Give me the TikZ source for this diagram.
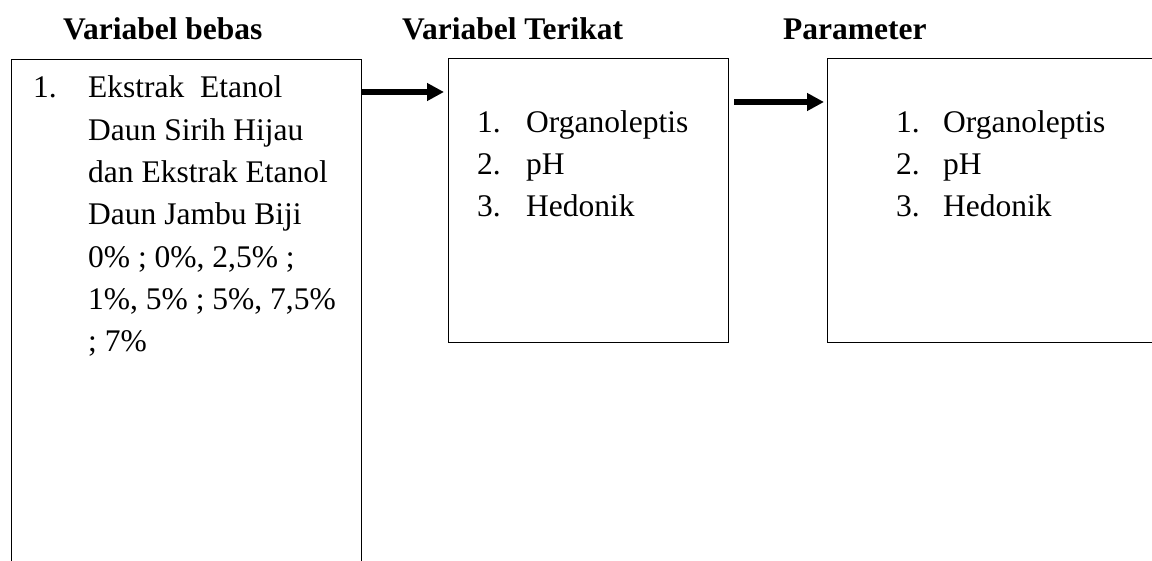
\documentclass[tikz,border=0pt]{standalone}
\usepackage{fontspec}
\setmainfont{Liberation Serif}
\usetikzlibrary{arrows.meta}

\begin{document}
\begin{tikzpicture}[x=1pt,y=-1pt,
		box/.style={draw, line width=1.4pt, anchor=north west, inner sep=0pt},
		head/.style={anchor=base west, inner sep=0pt, font=\fontsize{31.5}{42}\selectfont\bfseries},
		item/.style={anchor=base west, inner sep=0pt, font=\fontsize{31.5}{42}\selectfont},
		flow/.style={line width=6pt, -{Triangle[length=17pt,width=17pt]}}]
			%%%%% START %%%%%
			\useasboundingbox (0,0) rectangle (1152,561);
			\clip (0,0) rectangle (1152,561);
			
			\node[head] (h-bebas) at (63,40) {Variabel bebas};
			\node[head] (h-terikat) at (402,40) {Variabel Terikat};
			\node[head] (h-param) at (783,40) {Parameter};
			
			\node[box, minimum width=350pt, minimum height=560pt] (bebas) at (11,59) {};
			\node[box, minimum width=280pt, minimum height=284pt] (terikat) at (448,58) {};
			\node[box, minimum width=400pt, minimum height=284pt] (param) at (827,58) {};
			
			\node[item] (bebas-no) at (33,98) {1.};
			\foreach \t [count=\i from 0] in {{Ekstrak\ \ Etanol}, {Daun Sirih Hijau}, {dan Ekstrak Etanol}, {Daun Jambu Biji}, {0\% ; 0\%, 2,5\% ;}, {1\%, 5\% ; 5\%, 7,5\%}, {; 7\%}}
				\node[item] (bebas-\i) at (88,98+42.3*\i) {\t};
			
			\foreach \t [count=\i] in {Organoleptis, pH, Hedonik} {
				\node[item] (terikat-no\i) at (477,91+42*\i) {\i.};
				\node[item] (terikat-\i) at (526,91+42*\i) {\t};
				\node[item] (param-no\i) at (896,91+42*\i) {\i.};
				\node[item] (param-\i) at (943,91+42*\i) {\t};
			}
			
			\coordinate (arrowA) at (0,92);
			\coordinate (arrowB) at (0,102);
			\draw[flow, shorten >=4pt] (bebas.east |- arrowA) -- (terikat.west |- arrowA);
			\draw[flow, shorten <=5pt, shorten >=3pt] (terikat.east |- arrowB) -- (param.west |- arrowB);
			
			%%%%% END %%%%%
\end{tikzpicture}
\end{document}
